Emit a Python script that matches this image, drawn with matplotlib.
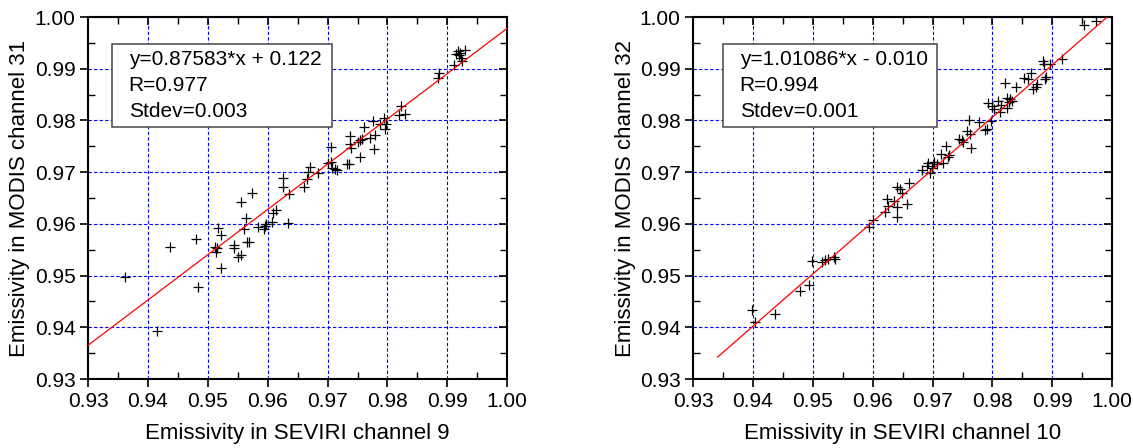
"""Emissivity comparison: SEVIRI vs MODIS channels."""

import matplotlib

matplotlib.use("Agg")
import matplotlib.pyplot as plt
import numpy as np
from matplotlib.patches import Rectangle
from matplotlib.ticker import FormatStrFormatter, MultipleLocator

plt.rcParams["font.family"] = ["Liberation Sans", "DejaVu Sans"]

# channel 9 vs MODIS 31
ch9_x = [0.9361, 0.9415, 0.9437, 0.9480, 0.9483, 0.9512, 0.9515, 0.9514, 0.9517, 0.9522, 0.9522,
         0.9544, 0.9544, 0.9551, 0.9556, 0.9556, 0.9573, 0.9564, 0.9561, 0.9565, 0.9569,
         0.9584, 0.9593, 0.9596, 0.9598, 0.9607, 0.9609, 0.9614, 0.9634, 0.9636, 0.9625,
         0.9625, 0.9661, 0.9666, 0.9668, 0.9671, 0.9684, 0.9701, 0.9705, 0.9706, 0.9708,
         0.9712, 0.9715, 0.9732, 0.9736, 0.9738, 0.9738, 0.9739, 0.9750, 0.9754, 0.9754,
         0.9757, 0.9760, 0.9771, 0.9777, 0.9780, 0.9776, 0.9787, 0.9795, 0.9796, 0.9798,
         0.9820, 0.9823, 0.9829, 0.9886, 0.9884, 0.9911, 0.9918, 0.9920, 0.9922, 0.9924,
         0.9929, 0.9915, 0.9921]
ch31_y = [0.9498, 0.9393, 0.9555, 0.9570, 0.9477, 0.9556, 0.9553, 0.9545, 0.9592, 0.9579, 0.9515,
          0.9559, 0.9553, 0.9535, 0.9539, 0.9642, 0.9660, 0.9611, 0.9590, 0.9564, 0.9564,
          0.9593, 0.9590, 0.9596, 0.9600, 0.9603, 0.9621, 0.9626, 0.9601, 0.9658, 0.9689,
          0.9671, 0.9671, 0.9687, 0.9700, 0.9710, 0.9698, 0.9718, 0.9719, 0.9749, 0.9708,
          0.9706, 0.9705, 0.9716, 0.9715, 0.9769, 0.9755, 0.9747, 0.9758, 0.9762, 0.9729,
          0.9764, 0.9788, 0.9767, 0.9745, 0.9771, 0.9798, 0.9794, 0.9805, 0.9784, 0.9794,
          0.9810, 0.9828, 0.9813, 0.9891, 0.9883, 0.9908, 0.9934, 0.9926, 0.9921, 0.9915,
          0.9937, 0.9928, 0.9931]

# channel 10 vs MODIS 32
ch10_x = [0.9399, 0.9403, 0.9436, 0.9479, 0.9493, 0.9498, 0.9515, 0.9521, 0.9525, 0.9535,
          0.9537, 0.9593, 0.9600, 0.9621, 0.9624, 0.9626, 0.9636, 0.9641, 0.9641, 0.9640,
          0.9646, 0.9649, 0.9657, 0.9661, 0.9682, 0.9690, 0.9693, 0.9695, 0.9699, 0.9703,
          0.9707, 0.9714, 0.9717, 0.9723, 0.9725, 0.9727, 0.9744, 0.9749, 0.9750, 0.9758,
          0.9760, 0.9762, 0.9764, 0.9778, 0.9788, 0.9791, 0.9793, 0.9797, 0.9800, 0.9802,
          0.9810, 0.9813, 0.9814, 0.9821, 0.9824, 0.9827, 0.9829, 0.9832, 0.9824, 0.9840,
          0.9852, 0.9860, 0.9864, 0.9868, 0.9873, 0.9875, 0.9884, 0.9886, 0.9887, 0.9889,
          0.9896, 0.9916, 0.9953, 0.9973]
ch32_y = [0.9433, 0.9411, 0.9426, 0.9471, 0.9482, 0.9529, 0.9527, 0.9530, 0.9533, 0.9535,
          0.9533, 0.9593, 0.9607, 0.9623, 0.9648, 0.9634, 0.9645, 0.9613, 0.9632, 0.9671,
          0.9668, 0.9660, 0.9638, 0.9680, 0.9705, 0.9712, 0.9718, 0.9699, 0.9708, 0.9719,
          0.9715, 0.9736, 0.9717, 0.9751, 0.9729, 0.9733, 0.9764, 0.9762, 0.9758, 0.9780,
          0.9800, 0.9774, 0.9747, 0.9797, 0.9781, 0.9784, 0.9834, 0.9799, 0.9828, 0.9822,
          0.9838, 0.9816, 0.9829, 0.9873, 0.9824, 0.9835, 0.9841, 0.9838, 0.9844, 0.9864,
          0.9883, 0.9881, 0.9892, 0.9860, 0.9865, 0.9870, 0.9915, 0.9910, 0.9881, 0.9884,
          0.9910, 0.9919, 0.9984, 0.9992]

fit9 = (0.87583, 0.122, (0.93, 1.00))
fit10 = (1.01086, -0.010, (0.9341, 0.99915))

panels = [
    (ch9_x, ch31_y, fit9, "y=0.87583*x + 0.122\nR=0.977\nStdev=0.003",
     "Emissivity in SEVIRI channel 9", "Emissivity in MODIS channel 31",
     [0.0777, 0.154, 0.370, 0.808], (0.057, 0.696, 0.525, 0.229)),
    (ch10_x, ch32_y, fit10, "y=1.01086*x - 0.010\nR=0.994\nStdev=0.001",
     "Emissivity in SEVIRI channel 10", "Emissivity in MODIS channel 32",
     [0.6117, 0.154, 0.370, 0.808], (0.071, 0.696, 0.510, 0.229)),
]

fig = plt.figure(figsize=(11.33, 4.48), dpi=100)

for xs, ys, (slope, icpt, (x0, x1)), label, xlabel, ylabel, rect, box in panels:
    ax = fig.add_axes(rect)
    ax.set_xlim(0.93, 1.00)
    ax.set_ylim(0.93, 1.00)
    ax.grid(True, color="#0000ff", linestyle=(0, (3, 2)), linewidth=0.8)
    ax.set_axisbelow(True)

    ax.plot(xs, ys, "+", color="black", markersize=6.5, markeredgewidth=0.9, zorder=3)
    fx = np.array([x0, x1])
    ax.plot(fx, slope * fx + icpt, color="red", linewidth=0.9, zorder=4)

    bx, by, bw, bh = box
    ax.add_patch(Rectangle((bx, by), bw, bh, transform=ax.transAxes, facecolor="white",
                           edgecolor="#555555", linewidth=1.2, zorder=5))
    ax.text(bx + 0.04, by + bh / 2, label, transform=ax.transAxes, fontsize=15,
            va="center", ha="left", linespacing=1.45, zorder=6)

    ax.xaxis.set_major_locator(MultipleLocator(0.01))
    ax.yaxis.set_major_locator(MultipleLocator(0.01))
    ax.xaxis.set_minor_locator(MultipleLocator(0.005))
    ax.yaxis.set_minor_locator(MultipleLocator(0.005))
    ax.xaxis.set_major_formatter(FormatStrFormatter("%.2f"))
    ax.yaxis.set_major_formatter(FormatStrFormatter("%.2f"))
    ax.tick_params(which="major", direction="out", length=6, width=1.2, labelsize=15, pad=3)
    ax.tick_params(which="minor", direction="in", length=5, width=1.0)
    ax.tick_params(which="both", top=True, right=True)
    for side in ("left", "bottom", "top", "right"):
        ax.spines[side].set_linewidth(1.5)

    ax.set_xlabel(xlabel, fontsize=16, labelpad=9)
    ax.set_ylabel(ylabel, fontsize=16, labelpad=3)

# top/right major ticks point inward
for ax in fig.axes:
    ax.tick_params(which="major", top=True, right=True, labeltop=False, labelright=False)
    for t in ax.xaxis.get_major_ticks():
        t.tick2line.set_marker(matplotlib.lines.TICKDOWN)
    for t in ax.yaxis.get_major_ticks():
        t.tick2line.set_marker(matplotlib.lines.TICKLEFT)

fig.savefig("out.png", dpi=100)
